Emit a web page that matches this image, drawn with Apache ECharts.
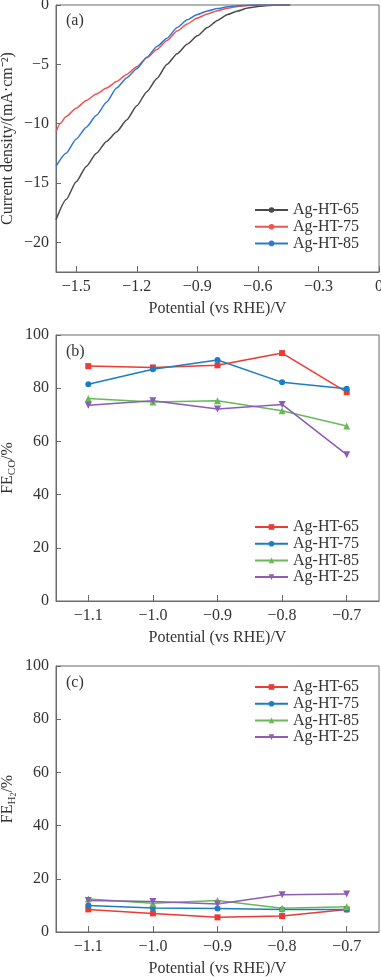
<!DOCTYPE html>
<html>
<head>
<meta charset="utf-8">
<script src="https://cdn.jsdelivr.net/npm/echarts@6/dist/echarts.min.js"></script>
<style>
html,body{margin:0;padding:0;background:#fff;}
#c{width:381px;height:977px;}
</style>
</head>
<body>
<div id="c"></div>
<script>
// ---- Panel (a): LSV curves, [potential V, current density mA/cm2]
var lsv65 = [[-1.60,-18.1],[-1.55,-16.4],[-1.50,-14.9],[-1.45,-13.6],[-1.40,-12.5],[-1.35,-11.5],[-1.30,-10.7],[-1.25,-9.7],[-1.20,-8.5],[-1.15,-7.3],[-1.10,-6.2],[-1.05,-5.0],[-1.00,-4.1],[-0.95,-3.3],[-0.90,-2.6],[-0.85,-1.9],[-0.80,-1.3],[-0.75,-0.8],[-0.70,-0.5],[-0.65,-0.25],[-0.60,-0.12],[-0.55,-0.04],[-0.50,0],[-0.44,0]];
var lsv75 = [[-1.60,-10.7],[-1.58,-10.0],[-1.55,-9.4],[-1.50,-8.7],[-1.45,-8.05],[-1.40,-7.5],[-1.35,-7.0],[-1.30,-6.45],[-1.25,-5.85],[-1.20,-5.2],[-1.15,-4.45],[-1.10,-3.75],[-1.05,-3.0],[-1.00,-2.2],[-0.95,-1.6],[-0.90,-1.1],[-0.85,-0.75],[-0.80,-0.48],[-0.75,-0.28],[-0.70,-0.12],[-0.65,-0.04],[-0.60,0],[-0.44,0]];
var lsv85 = [[-1.60,-13.6],[-1.55,-12.5],[-1.50,-11.3],[-1.45,-10.3],[-1.40,-9.3],[-1.35,-8.2],[-1.30,-7.0],[-1.25,-6.15],[-1.20,-5.37],[-1.15,-4.4],[-1.10,-3.5],[-1.05,-2.8],[-1.00,-1.9],[-0.95,-1.25],[-0.90,-0.8],[-0.85,-0.5],[-0.80,-0.3],[-0.75,-0.15],[-0.70,-0.06],[-0.65,-0.02],[-0.60,0],[-0.44,0]];
var aXTicks = [-1.5,-1.2,-0.9,-0.6,-0.3,0];
var aYTicks = [0,-5,-10,-15,-20];

// ---- Panels (b) and (c): potentials and Faradaic efficiencies (%)
var potentials = [-1.1,-1.0,-0.9,-0.8,-0.7];
var feCO_65 = [88.3,87.8,88.6,93.2,78.5];
var feCO_75 = [81.5,87.1,90.6,82.2,79.8];
var feCO_85 = [76.1,74.8,75.3,71.5,65.8];
var feCO_25 = [73.6,75.3,72.2,73.9,55.0];
var feH2_65 = [8.5,7.0,5.5,6.0,8.5];
var feH2_75 = [10.0,9.0,8.8,8.5,8.5];
var feH2_85 = [12.4,10.8,11.8,8.9,9.5];
var feH2_25 = [11.8,11.5,10.5,14.0,14.3];
var seriesNames = ['Ag-HT-65','Ag-HT-75','Ag-HT-85','Ag-HT-25'];

var FONT = 'Liberation Serif';
var TXT = '#333';
var AX = '#6a6a6a';
var C = {red:'#ec3b33', blue:'#1b7dc2', green:'#66bb55', purple:'#8c5cb6', black:'#4a4a4a', redA:'#f0534d', blueA:'#3079d3'};

function pair(xs, ys){ return xs.map(function(x,i){ return [x, ys[i]]; }); }
function fmt(d){ return function(v){ var s = Math.abs(v) < 1e-9 ? '0' : Math.abs(v).toFixed(d); return (v < -1e-9 ? '\u2212' : '') + s; }; }

function xAxisCfg(gi, min, max, ticks, dec, name){
  return {
    type:'value', gridIndex:gi, min:min, max:max,
    name:name, nameLocation:'middle', nameGap:29,
    nameTextStyle:{fontFamily:FONT, fontSize:16, color:TXT},
    axisLine:{show:true, onZero:false, lineStyle:{color:AX, width:1}},
    axisTick:{show:true, inside:true, length:6, customValues:ticks, lineStyle:{color:AX}},
    axisLabel:{customValues:ticks, formatter:fmt(dec), fontFamily:FONT, fontSize:16, color:TXT, margin:7},
    splitLine:{show:false}
  };
}
function yAxisCfg(gi, min, max, opts){
  var o = {
    type:'value', gridIndex:gi, min:min, max:max,
    nameLocation:'middle', nameRotate:90, nameMoveOverlap:false,
    axisLine:{show:true, onZero:false, lineStyle:{color:AX, width:1}},
    axisTick:{show:true, inside:true, length:5, lineStyle:{color:AX}},
    axisLabel:{fontFamily:FONT, fontSize:16, color:TXT, margin:7},
    splitLine:{show:false}
  };
  for (var k in opts) { o[k] = opts[k]; }
  return o;
}

var subRich = {
  m:{fontFamily:FONT, fontSize:16, color:TXT, lineHeight:20},
  s:{fontFamily:FONT, fontSize:11, color:TXT, lineHeight:10, verticalAlign:'bottom'},
  ss:{fontFamily:FONT, fontSize:8, color:TXT, lineHeight:6, verticalAlign:'bottom'}
};

var yA = yAxisCfg(0, -22.5, 0, {
  name:'Current density/(mA\u00B7cm\u207B\u00B2)', nameGap:40,
  nameTextStyle:{fontFamily:FONT, fontSize:16, color:TXT}
});
yA.axisTick.customValues = aYTicks;
yA.axisLabel.customValues = aYTicks;
yA.axisLabel.formatter = fmt(0);

var yB = yAxisCfg(1, 0, 100, {
  interval:20, name:'{m|FE}{s|CO}{m|/%}', nameGap:38,
  nameTextStyle:{rich:subRich}
});
var yC = yAxisCfg(2, 0, 100, {
  interval:20, name:'{m|FE}{s|H}{ss|2}{m|/%}', nameGap:38,
  nameTextStyle:{rich:subRich}
});

var gridBase = {left:56, right:2, show:true, borderColor:AX, borderWidth:1, backgroundColor:'transparent', containLabel:false, outerBoundsMode:'none'};
function grid(top, h){ var g = {}; for (var k in gridBase) g[k]=gridBase[k]; g.top = top; g.height = h; return g; }

function lsvSeries(name, data, color){
  return {type:'line', name:name, xAxisIndex:0, yAxisIndex:0, data:data, symbol:'none', smooth:0.2, smoothMonotone:'x',
    lineStyle:{color:color, width:1.5}, itemStyle:{color:color}, animation:false};
}
function feSeries(name, gi, ys, color, symbol, size){
  return {type:'line', name:name, xAxisIndex:gi, yAxisIndex:gi, data:pair(potentials, ys),
    symbol:symbol, symbolSize:size, lineStyle:{color:color, width:1.5}, itemStyle:{color:color}, animation:false};
}

var legendText = {fontFamily:FONT, fontSize:16, color:TXT, lineHeight:16, padding:[0,0,0,0]};
function legend(top, names){
  return {orient:'vertical', left:254, top:top, itemWidth:33, itemHeight:7, itemGap:0.7, padding:0,
    data:names, textStyle:legendText, formatter:function(n){ return n.split('_')[0]; }, selectedMode:false};
}

var option = {
  backgroundColor:'#fff',
  animation:false,
  grid:[grid(5,267), grid(335,266), grid(666,266)],
  xAxis:[
    xAxisCfg(0, -1.6, 0, aXTicks, 1, 'Potential (vs RHE)/V'),
    xAxisCfg(1, -1.15, -0.65, potentials, 1, 'Potential (vs RHE)/V'),
    xAxisCfg(2, -1.15, -0.65, potentials, 1, 'Potential (vs RHE)/V')
  ],
  yAxis:[yA, yB, yC],
  title:[
    {text:'(a)', left:61, top:8, textStyle:{fontFamily:FONT, fontSize:16, fontWeight:'normal', color:TXT}},
    {text:'(b)', left:61, top:339, textStyle:{fontFamily:FONT, fontSize:16, fontWeight:'normal', color:TXT}},
    {text:'(c)', left:61, top:670, textStyle:{fontFamily:FONT, fontSize:16, fontWeight:'normal', color:TXT}}
  ],
  legend:[
    legend(202, ['Ag-HT-65_a','Ag-HT-75_a','Ag-HT-85_a']),
    legend(519, seriesNames.map(function(n){return n+'_b';})),
    legend(679, seriesNames.map(function(n){return n+'_c';}))
  ],
  series:[
    lsvSeries('Ag-HT-65_a', lsv65, C.black),
    lsvSeries('Ag-HT-75_a', lsv75, C.redA),
    lsvSeries('Ag-HT-85_a', lsv85, C.blueA),
    feSeries('Ag-HT-65_b', 1, feCO_65, C.red, 'rect', 6),
    feSeries('Ag-HT-75_b', 1, feCO_75, C.blue, 'circle', 6),
    feSeries('Ag-HT-85_b', 1, feCO_85, C.green, 'triangle', 7),
    feSeries('Ag-HT-25_b', 1, feCO_25, C.purple, 'path://M0,0 L10,0 L5,9 Z', 7),
    feSeries('Ag-HT-65_c', 2, feH2_65, C.red, 'rect', 6),
    feSeries('Ag-HT-75_c', 2, feH2_75, C.blue, 'circle', 6),
    feSeries('Ag-HT-85_c', 2, feH2_85, C.green, 'triangle', 7),
    feSeries('Ag-HT-25_c', 2, feH2_25, C.purple, 'path://M0,0 L10,0 L5,9 Z', 7)
  ]
};
var chart = echarts.init(document.getElementById('c'), null, {renderer:'canvas'});
chart.setOption(option);
</script>
</body>
</html>
